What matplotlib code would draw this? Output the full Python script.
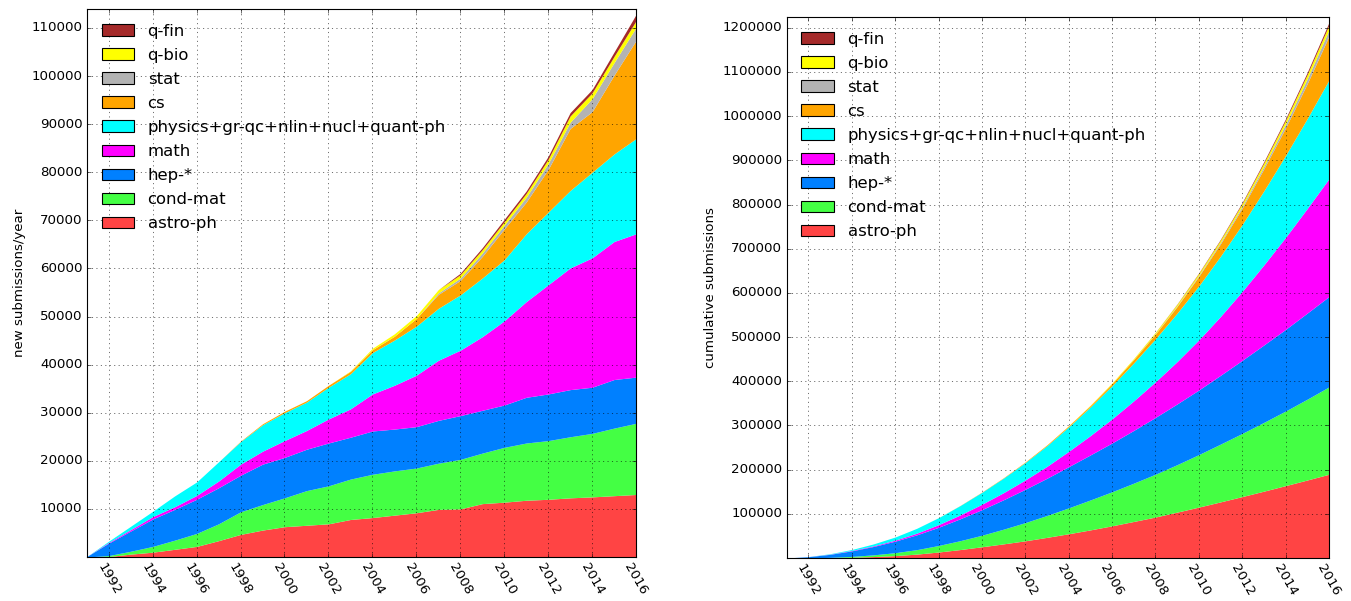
import numpy as np
import matplotlib
matplotlib.use('Agg')
import matplotlib.pyplot as plt

plt.style.use('classic')

# yearly new submissions per archive
years = np.arange(1991, 2017)
astro_ph = [0, 100, 600, 1000, 1600, 2200, 3400, 4700, 5600, 6300, 6600, 6900, 7800,
            8200, 8700, 9200, 9900, 10000, 11100, 11400, 11800, 12000, 12300, 12500, 12750, 13000]
cond_mat = [0, 200, 600, 1200, 1900, 2700, 3500, 4700, 5300, 6000, 7200, 7900, 8400,
            9000, 9200, 9300, 9600, 10300, 10500, 11400, 11900, 12200, 12700, 13200, 14050, 14800]
hep = [100, 2600, 4200, 5700, 6400, 7100, 7500, 7600, 8400, 8400, 8600, 8900, 8700,
       9000, 8700, 8600, 8900, 9100, 8900, 8800, 9500, 9700, 9800, 9600, 10100, 9600]
math = [0, 150, 300, 500, 550, 800, 1400, 2300, 2700, 3500, 3900, 5000, 5900,
        7700, 9100, 10700, 12500, 13600, 15300, 17500, 19900, 22700, 25300, 26900, 28700, 29800]
physics = [0, 250, 700, 1100, 2250, 2800, 4000, 4700, 5500, 5800, 5900, 6600, 7300,
           8600, 9400, 10200, 10800, 11500, 12200, 12700, 14100, 15100, 16100, 17800, 18200, 19800]
cs = [0, 0, 0, 0, 0, 0, 0, 100, 200, 300, 300, 400, 500,
      600, 800, 1600, 2900, 3000, 4500, 6400, 6600, 8900, 12900, 12600, 16400, 20400]
stat = [0, 0, 0, 0, 0, 0, 0, 0, 0, 0, 0, 0, 0,
        0, 0, 0, 300, 500, 700, 800, 1000, 1200, 1300, 2700, 2600, 2700]
q_bio = [0, 0, 0, 0, 0, 0, 0, 0, 0, 0, 0, 0, 100,
         300, 500, 600, 700, 700, 700, 700, 800, 900, 1300, 1200, 1300, 1400]
q_fin = [0, 0, 0, 0, 0, 0, 0, 0, 0, 0, 0, 0, 0,
         0, 0, 0, 0, 300, 400, 500, 500, 600, 700, 700, 900, 1300]

labels = ['astro-ph', 'cond-mat', 'hep-*', 'math', 'physics+gr-qc+nlin+nucl+quant-ph',
          'cs', 'stat', 'q-bio', 'q-fin']
colors = ['#ff4444', '#44ff44', '#0080ff', '#ff00ff', '#00ffff',
          '#ffa500', '#b3b3b3', '#ffff00', '#a52a2a']

yearly = np.array([astro_ph, cond_mat, hep, math, physics, cs, stat, q_bio, q_fin], dtype=float)
cumul = np.cumsum(yearly, axis=1)

fig = plt.figure(figsize=(1351 / 80., 601 / 80.), dpi=80)
ax1 = fig.add_axes([0.0642, 0.0732, 0.4066, 0.9118])
ax2 = fig.add_axes([0.5823, 0.0715, 0.4014, 0.9002])

for ax, data in ((ax1, yearly), (ax2, cumul)):
    ax.stackplot(years, data, colors=colors, linewidth=0)
    ax.set_xlim(1991, 2016)
    ax.set_ylim(0, 1.01 * data.sum(axis=0).max())
    xt = np.arange(1992, 2017, 2)
    ax.set_xticks(xt)
    ax.set_xticklabels([str(y) for y in xt], rotation=-60)
    ax.grid(True)
    handles = [plt.Rectangle((0, 0), 1, 1, fc=c, ec='k') for c in colors]
    ax.legend(handles[::-1], labels[::-1], loc='upper left', frameon=False,
              fontsize=14.8, labelspacing=0.55)

ax1.set_yticks(np.arange(10000, 110001, 10000))
ax2.set_yticks(np.arange(100000, 1200001, 100000))
ax1.set_ylabel('new submissions/year', fontsize=12)
ax2.set_ylabel('cumulative submissions', fontsize=12)

fig.savefig('out.png', dpi=80, facecolor='white')
